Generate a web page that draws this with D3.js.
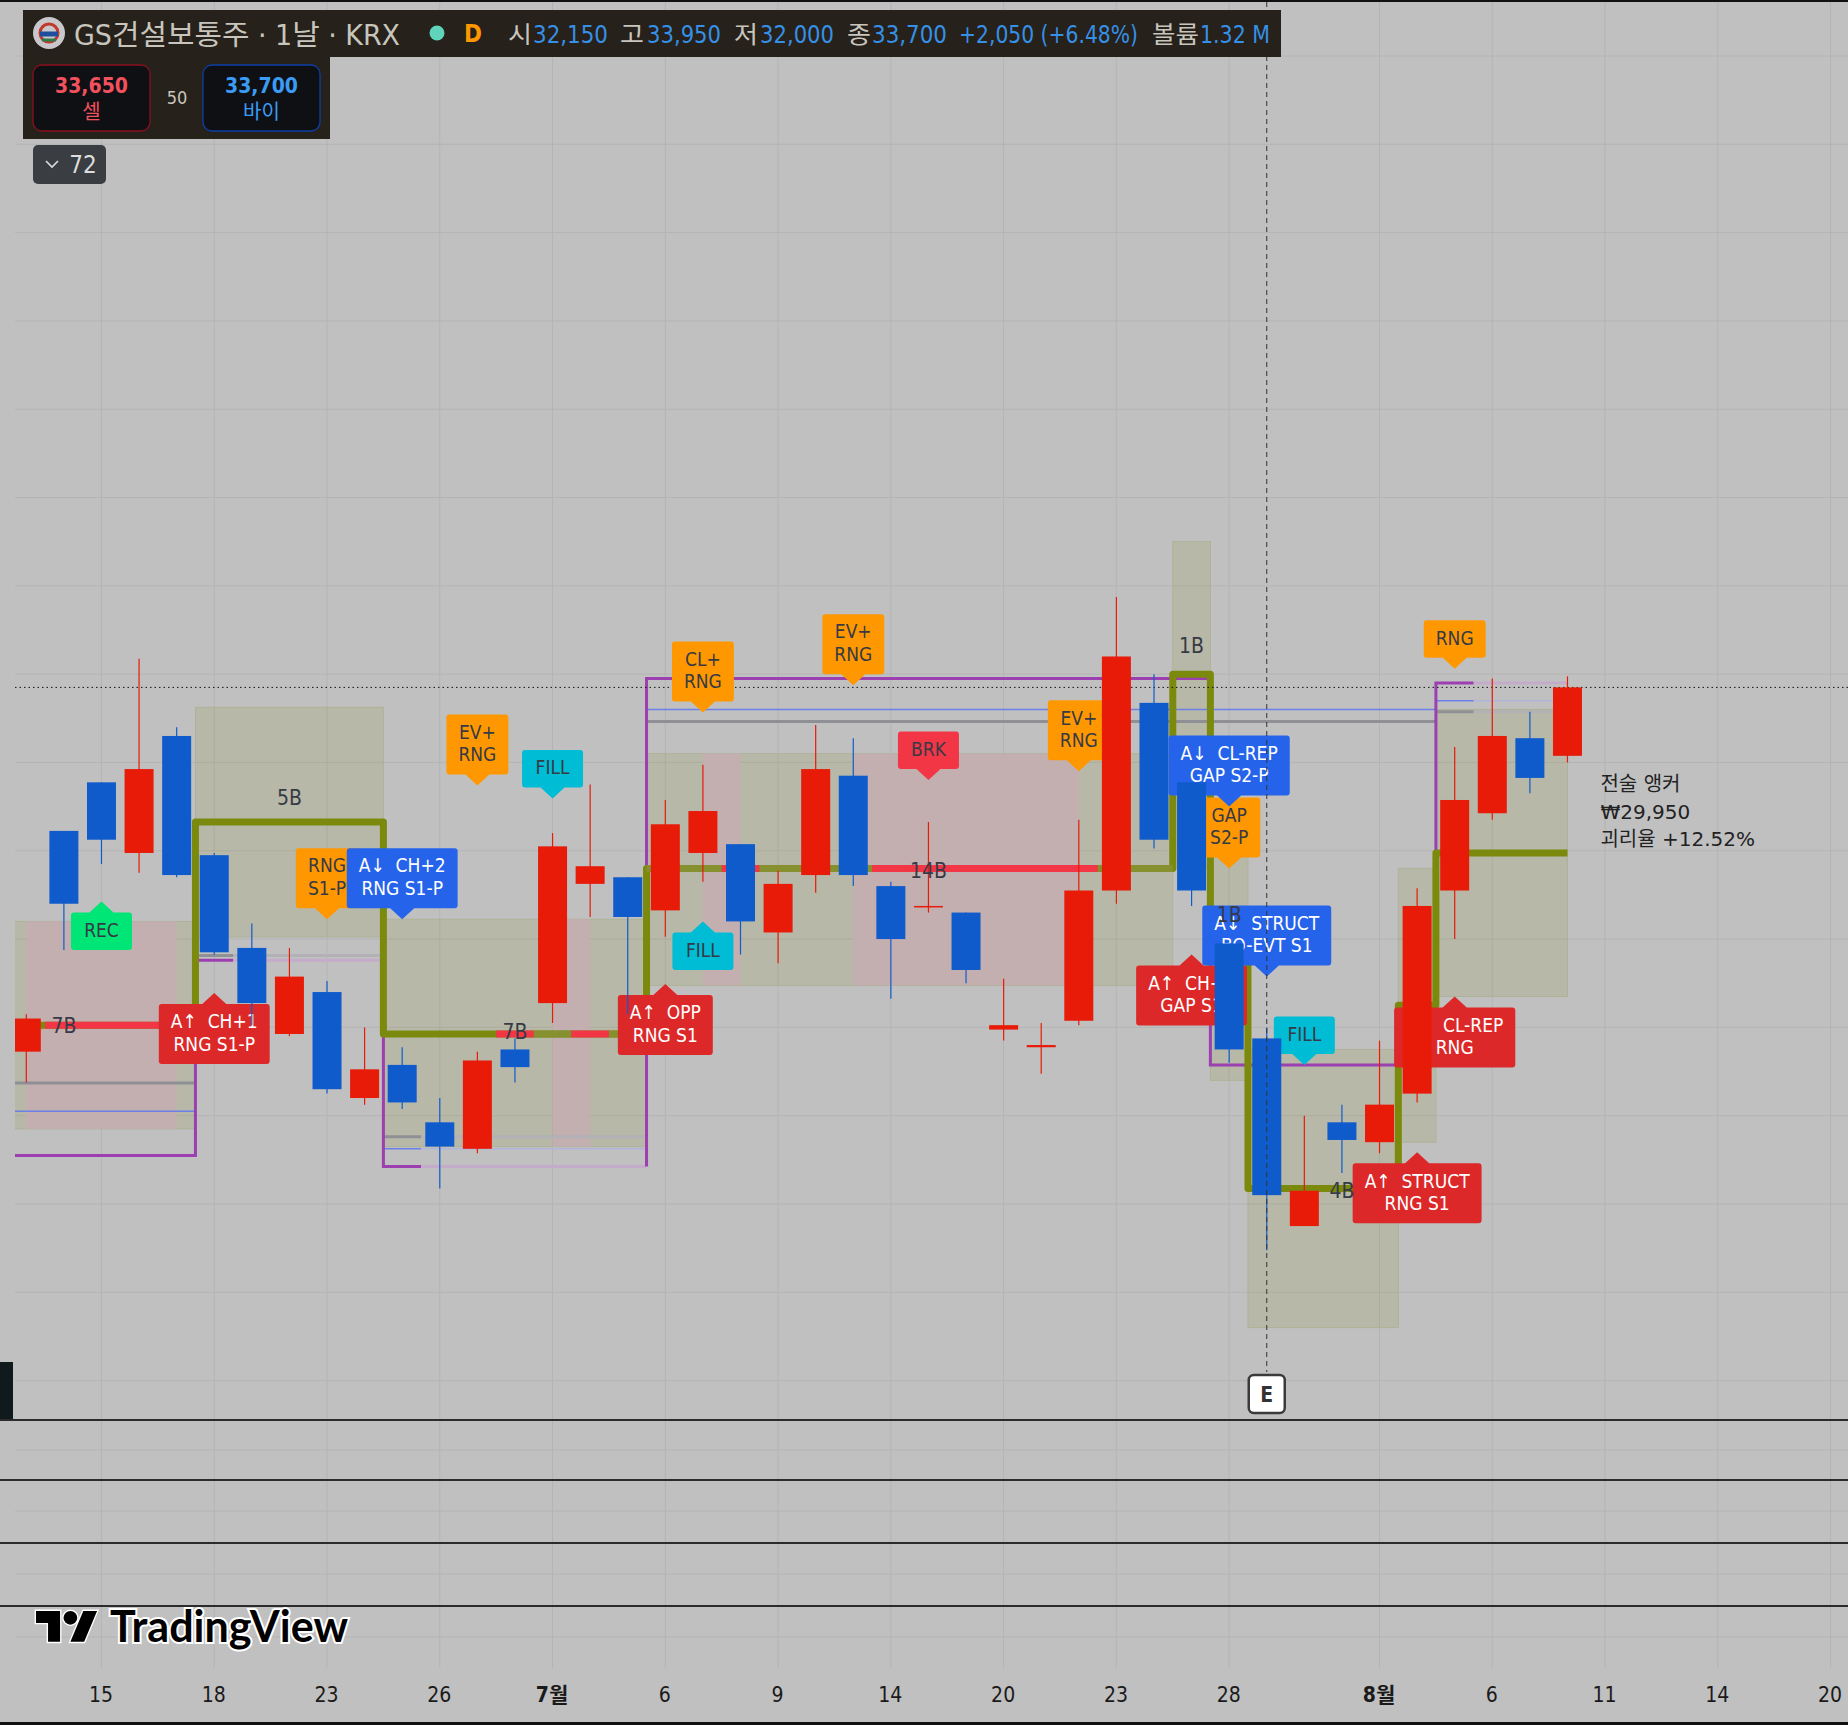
<!DOCTYPE html>
<html>
<head>
<meta charset="utf-8">
<script src="https://cdn.jsdelivr.net/npm/d3@7"></script>
<style>
  html, body { margin: 0; padding: 0; background: #c0c0c0; }
  svg { display: block; }
  text { white-space: pre; }
</style>
</head>
<body>
<script>
// candles, oldest first (red = up, blue = down, as in the reference)
const open  = [25450,30450,31550,29950,32600,29900,27800,25850,26800,24400,25150,23850,23250,25500,26550,29250,29400,28650,29950,30150,28150,29450,31700,29200,28750,28600,25950,25550,26150,29100,33350,31550,27900,25750,21500,23850,23400,24500,29100,30850,32550,32150];
const high  = [26300,30450,31550,34350,32800,29950,28350,27800,27050,26000,25550,24400,25450,25750,30400,31500,29400,31150,31950,30150,29550,32850,32550,29300,30650,28600,27100,26100,30700,35750,34000,31550,27900,26000,24000,24250,25700,29150,32350,33900,33150,33950];
const low   = [24750,27750,29700,29500,29400,27650,26050,25800,24500,24250,24150,22350,23150,24750,26100,28500,26300,28050,29300,27650,27450,29050,29200,26650,28600,27000,25700,24950,26050,28800,30050,28750,25200,20950,21500,22700,23150,24300,28000,30700,31300,32000];
const close = [26200,28800,30250,31850,29450,27700,26550,27150,24600,25050,24300,23300,25250,25100,30100,29650,28500,30600,30900,28400,29250,31850,29450,28000,28750,27300,26050,25600,29100,34400,30250,29100,25500,22200,22300,23450,24250,28750,31150,32600,31650,33700];

// time axis
const tickBars   = [2,5,8,11,14,17,20,23,26,29,32,36,39,42,45,48];
const tickLabels = ['15','18','23','26','7월','6','9','14','20','23','28','8월','6','11','14','20'];
const boldTicks  = ['7월','8월'];
const priceGrid  = [48000,46000,44000,42000,40000,38000,36000,34000,32000,30000,28000,26000,24000,22000,20000,18000];

// [from bar, to bar, top price, bottom price]
const oliveZones = [[-1,4.5,28400,23700],[4.5,9.5,33250,28050],[9.5,16.5,28450,23300],[16.5,30.5,32200,26950],[30.5,31.5,37000,29600],[31.5,32.5,29850,24800],[32.5,36.5,25500,19200],[36.5,37.5,29600,23400],[37.5,41,33200,26700]];
const pinkZones  = [[0,4,28400,23700],[14,15,28450,23300],[18,19,32200,26950],[22,28,32200,26950]];

// stepped level line: [from bar, to bar, price]
const levelSteps = [[-1,4.5,26050],[4.5,9.5,30650],[9.5,16.5,25850],[16.5,30.5,29600],[30.5,31.5,34000],[31.5,32.5,28100],[32.5,36.5,22350],[36.5,37.5,26500],[37.5,41,29950]];
const levelRed   = [[0.5,4.5,26050],[12.5,13.5,25850],[14.5,15.5,25850],[18.5,19.5,29600],[22.5,28.5,29600]];
const levelPale  = [[13.5,14.5,25850],[15.5,16.5,25850],[16.5,18.5,29600],[19.5,22.5,29600],[28.5,30.5,29600]];

// purple box lines as [bar, price] runs, and the faded tails between them
const purpleRuns = [
  [[-1,23100],[4.5,23100],[4.5,27520],[5.5,27520]],
  [[9.5,27520],[9.5,22850],[10.5,22850]],
  [[16.5,22850],[16.5,33900],[31.5,33900],[31.5,25150],[37.5,25150],[37.5,33800],[38.5,33800]]
];
const purpleFaded = [[5.5,9.5,27520],[10.5,16.5,22850],[38.5,41,33800]];
const greyLevels  = [[-1,4.5,24740],[4.5,5.5,27630],[9.5,10.5,23525],[16.5,37.5,32930],[37.5,38.5,33150]];
const greyFaded   = [[5.5,9.5,27630],[10.5,16.5,23525],[38.5,41,33150]];
const blueLevels  = [[-1,4.5,24100],[9.5,10.5,23250],[16.5,37.5,33200],[37.5,38.5,33400]];
const blueFaded   = [[10.5,16.5,23250],[38.5,41,33400]];

// callouts: bar, price of the tip, kind, text
const calloutsDown = [
  [12,31480,'orange','EV+\nRNG'],[14,31185,'cyan','FILL'],[8,28450,'orange','RNG\nS1-P'],[10,28450,'blue','A↓  CH+2\nRNG S1-P'],
  [18,33130,'orange','CL+\nRNG'],[22,33750,'orange','EV+\nRNG'],[24,31600,'coral','BRK'],[28,31800,'orange','EV+\nRNG'],
  [32,29600,'orange','GAP\nS2-P'],[32,31000,'blue','A↓  CL-REP\nGAP S2-P'],[33,27150,'blue','A↓  STRUCT\nBO-EVT S1'],[34,25150,'cyan','FILL'],[38,34120,'orange','RNG']
];
const calloutsUp = [
  [2,28850,'green','REC'],[5,26780,'red','A↑  CH+1\nRNG S1-P'],[17,26980,'red','A↑  OPP\nRNG S1'],[18,28400,'cyan','FILL'],
  [31,27650,'red','A↑  CH+1\nGAP S1'],[38,26700,'red','A↑  CL-REP\nRNG'],[37,23170,'red','A↑  STRUCT\nRNG S1']
];
// bar-count texts: bar, price, text
const countTexts = [[1,26050,'7B'],[7,31200,'5B'],[13,25900,'7B'],[24,29550,'14B'],[31,34640,'1B'],[32,28550,'1B'],[35,22300,'4B']];

const anchorPrice = 29950;
const anchorLines = ['전술 앵커','₩29,950','괴리율 +12.52%'];
const sellQuote = 33650, buyQuote = 33700, spreadQuote = 50, hiddenCount = 72;
const changeText = '+2,050 (+6.48%)', volumeText = '1.32 M';

const W = 1848, H = 1725;
const font = '"DejaVu Sans Condensed", "DejaVu Sans", "Noto Sans CJK KR", sans-serif';
const krFont = '"DejaVu Sans Condensed", "Noto Sans CJK KR", sans-serif';
const colors = { up:'#e81a08', down:'#105bcc', orange:'#ff9800', cyan:'#00bcd4', blue:'#2563eb', red:'#dc2828', coral:'#f23645', green:'#00e676' };
const darkText = '#363a45';
const lightKinds = ['blue','red'];

const x = d3.scaleLinear().domain([0,48]).range([26.3,1830.6]);
const y = d3.scaleLinear().domain([33700,18000]).range([687.4,1380.6]);

const svg = d3.select('body').append('svg').attr('width',W).attr('height',H).style('font-family',font);
svg.append('rect').attr('width',W).attr('height',H).attr('fill','#c0c0c0');
svg.append('defs').append('clipPath').attr('id','plot').append('rect').attr('x',15).attr('y',0).attr('width',W-15).attr('height',1420);

// grid
const grid = svg.append('g');
grid.selectAll('.vg').data(tickBars).join('line').attr('x1',d=>x(d)).attr('x2',d=>x(d)).attr('y1',2).attr('y2',1668).attr('stroke','#b4b4b4');
grid.selectAll('.hg').data(priceGrid).join('line').attr('x1',15).attr('x2',W).attr('y1',d=>y(d)).attr('y2',d=>y(d)).attr('stroke','#b4b4b4');
grid.selectAll('.pg').data([1450,1511,1574,1637]).join('line').attr('x1',15).attr('x2',W).attr('y1',d=>d).attr('y2',d=>d).attr('stroke','#b4b4b4');

const plot = svg.append('g').attr('clip-path','url(#plot)');

// zones
plot.append('g').selectAll('rect').data(oliveZones).join('rect')
  .attr('x',d=>x(d[0])).attr('width',d=>x(d[1])-x(d[0])).attr('y',d=>y(d[2])).attr('height',d=>y(d[3])-y(d[2]))
  .attr('fill','rgb(128,136,20)').attr('fill-opacity',0.14).attr('stroke','#aeb398').attr('stroke-width',1);
plot.append('g').selectAll('rect').data(pinkZones).join('rect')
  .attr('x',d=>x(d[0])).attr('width',d=>x(d[1])-x(d[0])).attr('y',d=>y(d[2])).attr('height',d=>y(d[3])-y(d[2]))
  .attr('fill','#c4afb0');

// thin levels
function hLines(g, rows, color, width) {
  g.selectAll(null).data(rows).join('line')
    .attr('x1',d=>x(d[0])).attr('x2',d=>x(d[1])).attr('y1',d=>y(d[2])).attr('y2',d=>y(d[2]))
    .attr('stroke',color).attr('stroke-width',width);
}
const levels = plot.append('g');
hLines(levels, greyFaded, '#b1b1b6', 3);
hLines(levels, blueFaded, '#b0b5d8', 1.5);
hLines(levels, greyLevels, '#8e9096', 3);
hLines(levels, blueLevels, '#6c80e8', 1.5);

// purple box lines
const stepLine = d3.line().x(d=>x(d[0])).y(d=>y(d[1]));
hLines(levels, purpleFaded, '#c4abc9', 3);
plot.append('g').selectAll('path').data(purpleRuns).join('path')
  .attr('d',stepLine).attr('fill','none').attr('stroke','#9c3fb0').attr('stroke-width',3);

// olive level line
const stepPts = levelSteps.flatMap(s => [[s[0],s[2]],[s[1],s[2]]]);
plot.append('path').attr('d',stepLine(stepPts)).attr('fill','none').attr('stroke','#7b8a0c').attr('stroke-width',7).attr('stroke-linejoin','round');
hLines(plot.append('g'), levelPale, '#87902e', 7);
hLines(plot.append('g'), levelRed, '#f23645', 7);

// dotted last price
plot.append('line').attr('x1',15).attr('x2',W).attr('y1',y(close[close.length-1])).attr('y2',y(close[close.length-1]))
  .attr('stroke','#111').attr('stroke-width',1).attr('stroke-dasharray','1.5 3');

// callouts
function callout(g, d, dir) {
  const tipX = x(d[0]), tipY = y(d[1]), lines = d[3].split('\n');
  const node = g.append('g');
  const box = node.append('path').attr('fill',colors[d[2]]);
  const pointer = 11, half = 12, pad = 12, lineH = 22.5, h = lines.length*lineH + 15;
  const top = dir === 'down' ? tipY - pointer - h : tipY + pointer;
  let textW = 0;
  lines.forEach((t,i) => {
    const el = node.append('text').attr('x',tipX).attr('y',top + h/2 + (i-(lines.length-1)/2)*lineH + 5.5)
      .attr('text-anchor','middle').attr('font-size',19)
      .attr('fill',lightKinds.includes(d[2]) ? '#fff' : darkText).text(t);
    textW = Math.max(textW, el.node().getComputedTextLength());
  });
  const w = Math.max(61, textW + pad*2), l = tipX - w/2, r = tipX + w/2, b = top + h, rad = 3;
  const p = d3.path();
  p.moveTo(l+rad,top);
  if (dir === 'up') { p.lineTo(tipX-half,top); p.lineTo(tipX,tipY); p.lineTo(tipX+half,top); }
  p.lineTo(r-rad,top); p.quadraticCurveTo(r,top,r,top+rad);
  p.lineTo(r,b-rad); p.quadraticCurveTo(r,b,r-rad,b);
  if (dir === 'down') { p.lineTo(tipX+half,b); p.lineTo(tipX,tipY); p.lineTo(tipX-half,b); }
  p.lineTo(l+rad,b); p.quadraticCurveTo(l,b,l,b-rad);
  p.lineTo(l,top+rad); p.quadraticCurveTo(l,top,l+rad,top);
  p.closePath();
  box.attr('d',p.toString());
}
const labelLayer = plot.append('g');
calloutsUp.forEach(d => callout(labelLayer,d,'up'));
calloutsDown.forEach(d => callout(labelLayer,d,'down'));

// candles
const bars = open.map((o,i) => ({i,o,h:high[i],l:low[i],c:close[i]}));
const candle = plot.append('g').selectAll('g').data(bars).join('g')
  .attr('fill',d=>d.c>=d.o?colors.up:colors.down).attr('stroke',d=>d.c>=d.o?colors.up:colors.down);
candle.append('line').attr('x1',d=>x(d.i)).attr('x2',d=>x(d.i)).attr('y1',d=>y(d.h)).attr('y2',d=>y(d.l)).attr('stroke-width',1.2);
candle.append('rect').attr('x',d=>x(d.i)-14.5).attr('width',29)
  .attr('y',d=>y(Math.max(d.o,d.c))).attr('height',d=>Math.max(1.5,y(Math.min(d.o,d.c))-y(Math.max(d.o,d.c)))).attr('stroke','none');

// bar count texts
plot.append('g').selectAll('text').data(countTexts).join('text')
  .attr('x',d=>x(d[0])).attr('y',d=>y(d[1])).attr('dy','0.35em').attr('text-anchor','middle')
  .attr('font-size',21).attr('fill',darkText).text(d=>d[2]);

// anchor note, beside the level line
svg.append('g').selectAll('text').data(anchorLines).join('text')
  .attr('x',x(41)+33).attr('y',(d,i)=>y(anchorPrice)+[-69,-41,-14][i]).attr('dy','0.35em')
  .attr('font-family','"DejaVu Sans", "Noto Sans CJK KR", sans-serif').attr('font-size',20).attr('fill','#222').text(d=>d);

// crosshair and E badge
svg.append('line').attr('x1',x(33)).attr('x2',x(33)).attr('y1',2).attr('y2',1372).attr('stroke','#333').attr('stroke-dasharray','5 4');
const eBadge = svg.append('g').attr('transform',`translate(${x(33)},1394)`);
eBadge.append('rect').attr('x',-18).attr('y',-19).attr('width',36).attr('height',38).attr('rx',5).attr('fill','#fff').attr('stroke','#3a3a3a').attr('stroke-width',2.5);
eBadge.append('text').attr('text-anchor','middle').attr('dy','0.36em').attr('font-size',21).attr('font-weight',700).attr('fill','#333').text('E');

// pane separators, left stub
svg.selectAll('.sep').data([1420,1480,1543,1606]).join('rect').attr('x',0).attr('width',W).attr('y',d=>d-1).attr('height',2).attr('fill','#2b2b2b');
svg.append('rect').attr('x',0).attr('y',1362).attr('width',13).attr('height',57).attr('fill','#10191c');
svg.append('rect').attr('width',W).attr('height',2).attr('fill','#111');
svg.append('rect').attr('y',1722).attr('width',W).attr('height',3).attr('fill','#111');

// time axis
const axis = d3.axisBottom(x).tickValues(tickBars).tickSize(0).tickFormat((d,i)=>tickLabels[i]);
const axisG = svg.append('g').attr('transform','translate(-1,1687)').call(axis);
axisG.select('.domain').remove();
axisG.selectAll('text').attr('font-family',font).attr('font-size',21).attr('fill','#1a1a1a').attr('dy','0.55em')
  .attr('font-weight',d=>boldTicks.includes(tickLabels[tickBars.indexOf(d)])?700:400);

// TradingView mark
const tv = svg.append('g').attr('transform','translate(36,1604)');
tv.append('path').attr('transform','scale(1.72)').attr('d','M14 22H7V11H0V4h14v18zM28 22h-8l7.5-18h8L28 22z')
  .attr('fill','#000').attr('stroke','#fff').attr('stroke-width',1.6).attr('paint-order','stroke');
tv.append('circle').attr('transform','scale(1.72)').attr('cx',20).attr('cy',8).attr('r',4).attr('fill','#000').attr('stroke','#fff').attr('stroke-width',1.6).attr('paint-order','stroke');
svg.append('text').attr('x',110).attr('y',1642).attr('font-family','Lato, sans-serif').attr('font-size',43).attr('font-weight',700)
  .attr('textLength',238).attr('lengthAdjust','spacingAndGlyphs')
  .attr('fill','#000').attr('stroke','#fff').attr('stroke-width',4).attr('paint-order','stroke').text('TradingView');

// header legend
const fmt = d3.format(',');
const last = bars[bars.length-1];
const grey = '#c8c5bd', blueText = '#3690e6';
const head = svg.append('g').attr('font-family',krFont);
head.append('rect').attr('x',23).attr('y',10).attr('width',1258).attr('height',47).attr('fill','#26211a');
head.append('rect').attr('x',23).attr('y',57).attr('width',307).attr('height',82).attr('fill','#26211a');
head.append('circle').attr('cx',49).attr('cy',33).attr('r',16).attr('fill','#c8c8cc');
head.append('circle').attr('cx',49).attr('cy',33).attr('r',9).attr('fill','none').attr('stroke','#c0392b').attr('stroke-width',3);
head.append('path').attr('d','M40 34h18').attr('stroke','#1f4f9c').attr('stroke-width',5);
head.append('path').attr('d','M42 40h14').attr('stroke','#2f7d4f').attr('stroke-width',3);
const headText = (tx,ty,t,fill,size,anchor) => head.append('text').attr('x',tx).attr('y',ty).attr('fill',fill).attr('font-size',size).attr('text-anchor',anchor||'start').text(t);
headText(74,45,'GS건설보통주 · 1날 · KRX',grey,28).attr('textLength',326).attr('lengthAdjust','spacingAndGlyphs');
head.append('circle').attr('cx',437).attr('cy',33).attr('r',7.5).attr('fill','#5fd4bb');
headText(473,42,'D','#ff9800',24,'middle').attr('font-weight',700);
const legendRow = [
  [508,'시',grey,24],[533,fmt(last.o),blueText,75],[620,'고',grey,24],[647,fmt(last.h),blueText,74],[734,'저',grey,24],[760,fmt(last.l),blueText,74],
  [847,'종',grey,24],[872,fmt(last.c),blueText,75],[959,changeText,blueText,179],[1152,'볼륨',grey,47],[1200,volumeText,blueText,70]
];
legendRow.forEach(r => {
  headText(r[0],43,r[1],r[2],24).attr('textLength',r[3]).attr('lengthAdjust','spacingAndGlyphs');
});

function quote(bx, w, stroke, fill, value, label) {
  head.append('rect').attr('x',bx).attr('y',65).attr('width',w).attr('height',66).attr('rx',9).attr('fill','#0f1013').attr('stroke',stroke).attr('stroke-width',1.3);
  headText(bx+w/2,93,fmt(value),fill,21,'middle').attr('font-weight',700);
  headText(bx+w/2,119,label,fill,20,'middle');
}
quote(33,117,'#8a0f1f','#f2515f',sellQuote,'셀');
quote(203,117,'#0d3fa8','#3b9cf5',buyQuote,'바이');
headText(177,104,String(spreadQuote),grey,18,'middle');

head.append('rect').attr('x',33).attr('y',145).attr('width',73).attr('height',39).attr('rx',5).attr('fill','#3a3d42');
head.append('path').attr('d','M46 161l6 6 6-6').attr('fill','none').attr('stroke','#ddd').attr('stroke-width',1.6);
headText(83,173,String(hiddenCount),'#ddd',24,'middle');
</script>
</body>
</html>
